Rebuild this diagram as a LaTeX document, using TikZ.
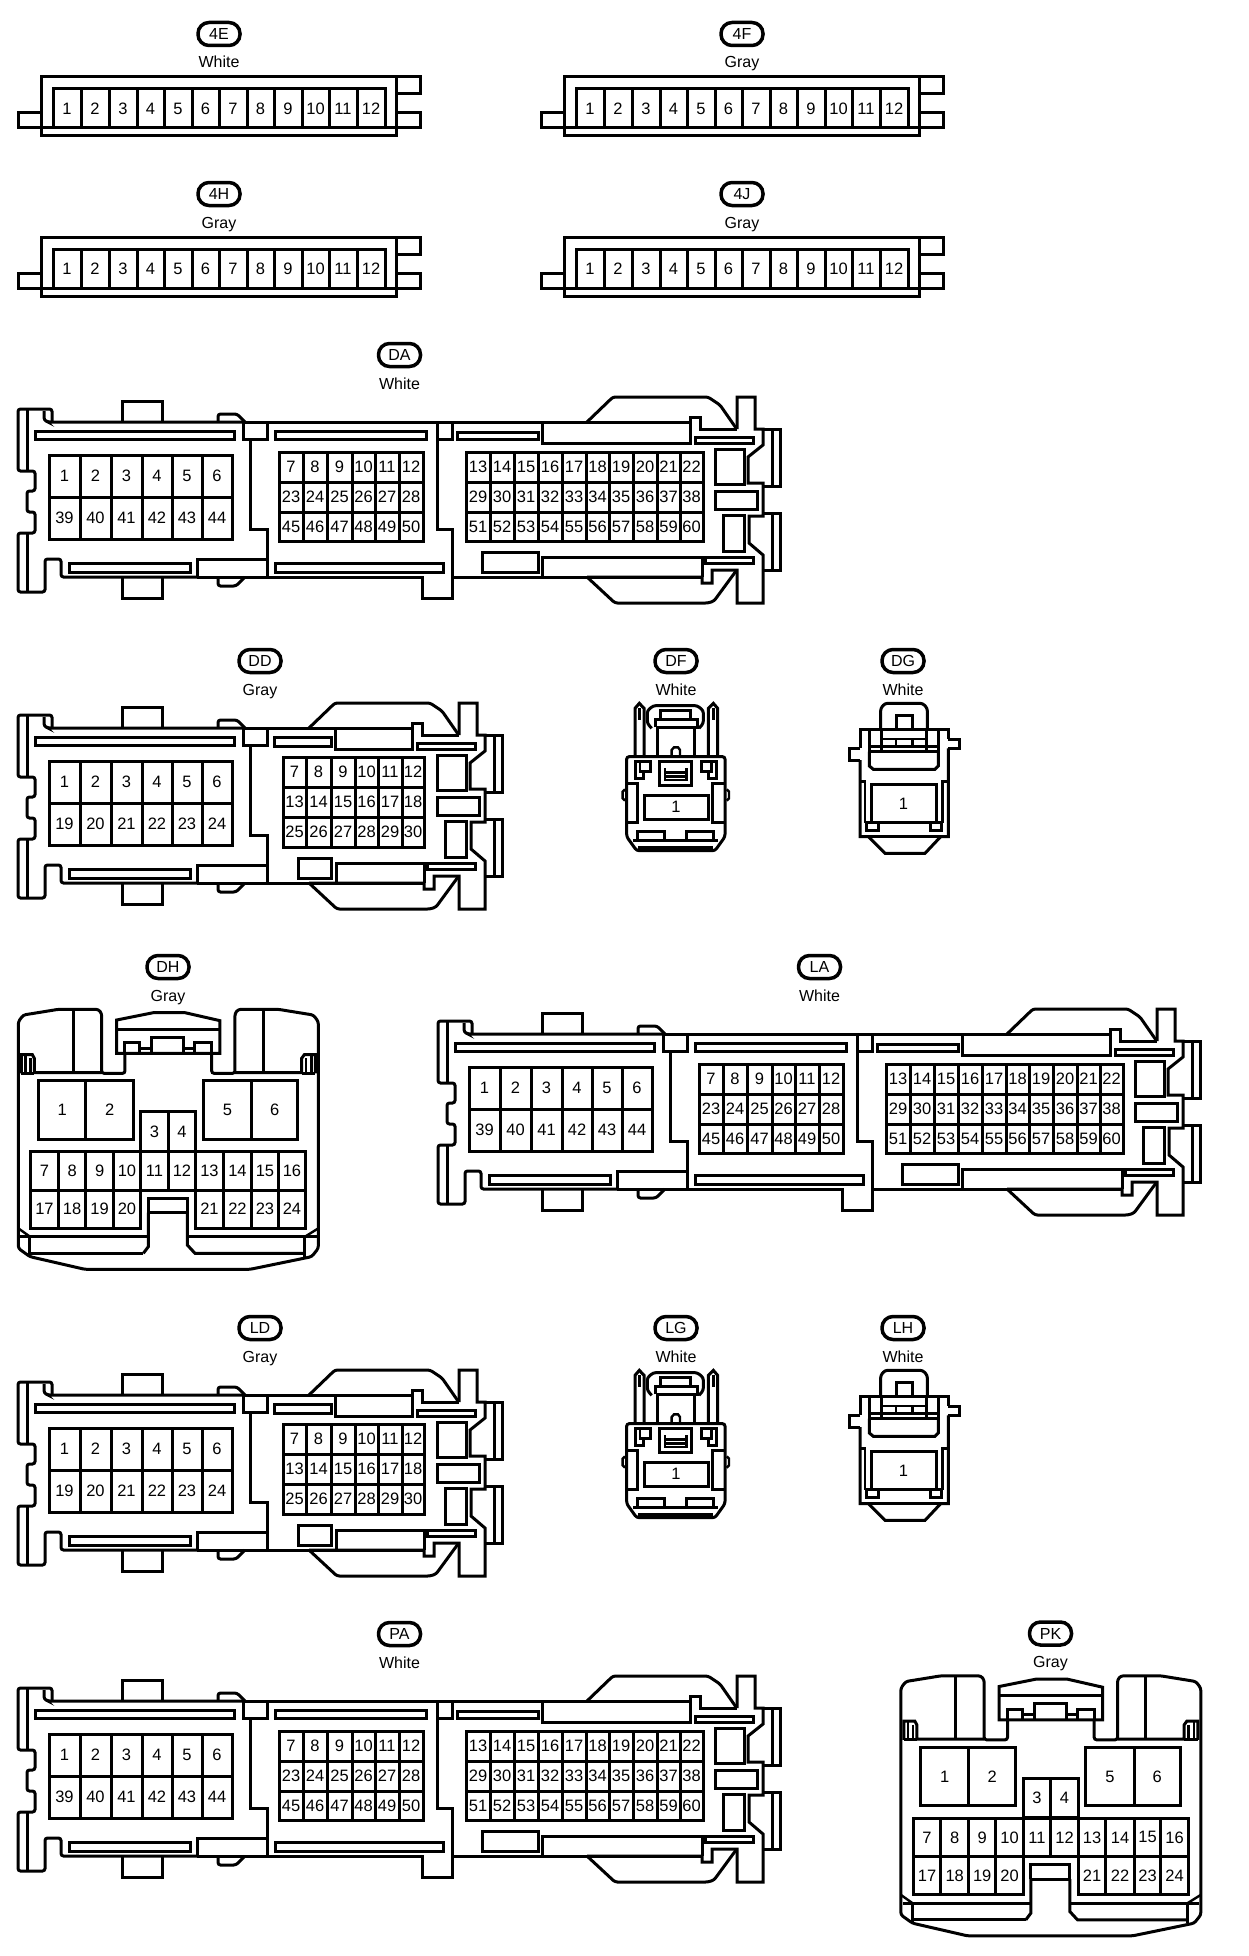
\documentclass[tikz,border=0pt]{standalone}
\usepackage{fontspec}
\setmainfont{Liberation Sans}
\tikzset{
  ln/.style={draw=black,line width=3pt,line join=miter},
  rd/.style={ln,rounded corners=2.5pt},
  thin/.style={draw=black,line width=2.4pt},
  num/.style={font=\fontsize{16.5}{18}\selectfont,inner sep=0pt,text=black},
  pill/.style={draw=black,line width=3.5pt,rounded corners=11pt,minimum width=42pt,minimum height=23pt,inner sep=0pt,font=\fontsize{16}{18}\selectfont,fill=white},
  colr/.style={font=\fontsize{16}{18}\selectfont,inner sep=0pt,text=black,anchor=base}
}
\newcommand\tagpill[5]{%
  \node[pill] (pill#1) at (#2,#3) {#4};
  \node[colr] (col#1) at (#2,#3+34) {#5};
}
\newcommand\gridrow[4]{%
  \foreach \xa/\xb/\lab in {#4}{%
    \draw[ln] (\xa,#2) rectangle (\xb,#3);
    \node[num] (#1\lab) at ({(\xa+\xb)/2},{(#2+#3)/2}) {\lab};
  }%
}
% twelve pin strip
\newcommand\strip[5]{%
 \begin{scope}[shift={(#2,#3)}]
  \tagpill{#1}{219}{34}{#4}{#5}
  \draw[ln] (41,128) rectangle (396,136);
  \draw[ln] (41,128)--(41,77)--(396,77)--(396,128);
  \draw[ln] (41,113)--(18,113)--(18,128)--(41,128);
  \draw[ln] (396,77)--(420,77)--(420,94)--(396,94);
  \draw[ln] (396,113)--(420,113)--(420,128)--(396,128);
  \gridrow{#1c}{89}{128}{53/81/1,81/109/2,109/137/3,137/164/4,164/192/5,192/219/6,219/247/7,247/274/8,274/302/9,302/329/10,329/357/11,357/385/12}
 \end{scope}%
}
% left half common to the long connectors (y base of DA)
\newcommand\leftpart{%
  \draw[rd] (52,422)--(52,409)--(18,409)--(18,471)--(35,471)--(35,491)--(27,491)--(27,512)--(35,512)--(35,533)--(18,533)--(18,592)--(45,592)--(45,559)--(61,559)--(61,577)--(197,577);
  \draw[ln] (27,409)--(27,471) (27,533)--(27,592);
  \draw[rd] (44,411)--(44,420)--(48,422)--(243,422);
  \draw[ln] (122,422)--(122,401)--(162,401)--(162,422);
  \draw[ln] (122,577)--(122,598)--(162,598)--(162,577);
  \draw[rd] (218,422)--(218,414)--(237,414)--(245,422);
  \draw[rd] (218,577)--(218,586)--(236,586)--(245,577);
  \draw[ln] (35,431) rectangle (234,439);
  \draw[ln] (69,563) rectangle (190,572);
  \draw[ln] (243,422) rectangle (267,439);
  \draw[ln] (250,439)--(250,529)--(267,529)--(267,577);
  \draw[ln] (197,577)--(197,559)--(267,559);
}
% right half common to the long connectors
\newcommand\rightpart{%
  \draw[rd] (587,422)--(613,397)--(708,397)--(720,405)--(736,428);
  \draw[ln] (587,422)--(690,422);
  \draw[ln] (690,422)--(690,417)--(700,417)--(700,429)--(737,429);
  \draw[ln] (737,429)--(737,397)--(755,397)--(755,429)--(763,429)--(763,445)--(748,457)--(748,483)--(763,483)--(763,516)--(749,516)--(749,543)--(763,555)--(763,603)--(737,603)--(737,570)--(712,570)--(712,583)--(702,583)--(702,577)--(587,577);
  \draw[rd] (736,571)--(714,601)--(708,603)--(615,603)--(587,577);
  \draw[ln] (763,429)--(780,429)--(780,486)--(763,486);
  \draw[ln] (763,513)--(780,513)--(780,570)--(763,570);
  \draw[ln] (772,429)--(772,486) (772,513)--(772,570);
  \draw[ln] (695,437) rectangle (753,443);
  \draw[ln] (705,557) rectangle (753,563);
  \draw[ln] (715,449) rectangle (744,484);
  \draw[ln] (715,491) rectangle (757,509);
  \draw[ln] (723,515) rectangle (744,551);
}
\newcommand\leftgrid[2]{%
  \gridrow{#1}{455}{497}{49/80/1,80/111/2,111/142/3,142/172/4,172/202/5,202/232/6}
  \gridrow{#1}{497}{539}{#2}
}
% 60-pin long connector
\newcommand\conn[5]{%
 \begin{scope}[shift={(#2,#3)}]
  \tagpill{#1}{399.5}{355}{#4}{#5}
  \leftpart\rightpart
  \leftgrid{#1c}{49/80/39,80/111/40,111/142/41,142/172/42,172/202/43,202/232/44}
  \draw[ln] (197,577)--(422,577)--(422,598)--(452,598)--(452,529)--(437,529)--(437,422);
  \draw[ln] (452,577)--(702,577);
  \draw[ln] (267,422)--(587,422);
  \draw[ln] (437,439)--(452,439)--(452,422);
  \draw[ln] (275,431) rectangle (426,439);
  \draw[ln] (275,563) rectangle (443,572);
  \draw[ln] (457,432) rectangle (538,439);
  \draw[ln] (482,552) rectangle (538,572);
  \draw[ln] (542,422)--(542,443)--(690,443)--(690,422);
  \draw[ln] (542,577)--(542,557)--(702,557)--(702,577);
  \gridrow{#1c}{452}{482}{279/303/7,303/327/8,327/352/9,352/375/10,375/399/11,399/423/12}
  \gridrow{#1c}{482}{512}{279/303/23,303/327/24,327/352/25,352/375/26,375/399/27,399/423/28}
  \gridrow{#1c}{512}{541}{279/303/45,303/327/46,327/352/47,352/375/48,375/399/49,399/423/50}
  \gridrow{#1c}{452}{482}{466/490/13,490/514/14,514/538/15,538/562/16,562/586/17,586/609/18,609/633/19,633/657/20,657/680/21,680/703/22}
  \gridrow{#1c}{482}{512}{466/490/29,490/514/30,514/538/31,538/562/32,562/586/33,586/609/34,609/633/35,633/657/36,657/680/37,680/703/38}
  \gridrow{#1c}{512}{541}{466/490/51,490/514/52,514/538/53,538/562/54,562/586/55,586/609/56,609/633/57,633/657/58,657/680/59,680/703/60}
 \end{scope}%
}
% 54-pin medium connector
\newcommand\connB[5]{%
 \begin{scope}[shift={(#2,#3)}]
  \tagpill{#1}{260}{661}{#4}{#5}
  \begin{scope}[shift={(0,306)}]
   \leftpart
   \leftgrid{#1c}{49/80/19,80/111/20,111/142/21,142/172/22,172/202/23,202/232/24}
  \end{scope}
  \begin{scope}[shift={(-278,306)}]\rightpart\end{scope}
  \draw[ln] (197,883)--(424,883);
  \draw[ln] (267,728)--(309,728);
  \draw[ln] (335,728)--(335,749)--(412,749)--(412,728);
  \draw[ln] (336,883)--(336,863)--(424,863)--(424,883);
  \draw[ln] (274,737) rectangle (331,746);
  \draw[ln] (298,858) rectangle (331,878);
  \gridrow{#1c}{757}{787}{283/306/7,306/331/8,331/355/9,355/378/10,378/402/11,402/424/12}
  \gridrow{#1c}{787}{817}{283/306/13,306/331/14,331/355/15,355/378/16,378/402/17,402/424/18}
  \gridrow{#1c}{817}{847}{283/306/25,306/331/26,331/355/27,355/378/28,378/402/29,402/424/30}
 \end{scope}%
}
% small connector DF kind
\newcommand\connF[4]{%
 \begin{scope}[shift={(#2,#3)}]
  \tagpill{#1}{676}{661}{#4}{White}
  \begin{scope}[shift={(600,640)},scale=1/3]
   \draw[rd] (80,590)--(80,350)--(375,350)--(375,590)--(345,632)--(110,632)--cycle;
   \draw[ln] (105,345)--(105,205)--(118,190)--(132,205)--(132,345);
   \draw[ln] (325,345)--(325,205)--(340,190)--(353,205)--(353,345);
   \draw[thin] (118,205)--(118,240) (340,205)--(340,240);
   \draw[rd] (155,265)--(142,250)--(142,212)--(160,197)--(292,197)--(310,212)--(310,250)--(297,265);
   \draw[ln] (172,345)--(172,262)--(283,262)--(283,345);
   \draw[ln] (165,262)--(165,238)--(292,238)--(292,262)--(283,262);
   \draw[ln] (182,238)--(182,212)--(272,212)--(272,238);
   \draw[thin] (215,345)--(215,330)--(222,322)--(234,322)--(240,330)--(240,345);
   \draw[ln] (105,415)--(105,365)--(150,365)--(150,395)--(130,395)--(130,415)--cycle;
   \draw[thin] (120,365)--(120,395)--(130,395);
   \draw[ln] (350,415)--(350,365)--(303,365)--(303,395)--(325,395)--(325,415)--cycle;
   \draw[thin] (335,365)--(335,395)--(325,395);
   \draw[ln] (178,365) rectangle (275,437);
   \draw[thin] (195,385)--(195,420)--(260,420)--(260,385) (195,398)--(260,398) (195,409)--(260,409);
   \draw[ln] (80,430)--(112,430)--(112,548)--(80,548);
   \draw[ln] (375,430)--(337,430)--(337,548)--(375,548);
   \draw[thin] (75,448)--(68,455)--(68,475)--(75,482) (380,448)--(387,455)--(387,475)--(380,482);
   \draw[ln] (133,465) rectangle (325,538);
   \draw[ln] (113,600)--(113,574)--(193,574)--(193,600);
   \draw[ln] (260,600)--(260,574)--(340,574)--(340,600);
   \draw[ln] (100,600)--(355,600);
   \draw[thin] (115,622)--(340,622);
   \node[num] (#1n) at (228,500) {1};
  \end{scope}
 \end{scope}%
}
% small connector DG kind
\newcommand\connG[4]{%
 \begin{scope}[shift={(#2,#3)}]
  \tagpill{#1}{903}{661}{#4}{White}
  \begin{scope}[shift={(600,640)},scale=1/3]
   \draw[rd] (842,268)--(842,205)--(855,190)--(968,190)--(982,205)--(982,268);
   \draw[ln] (888,268)--(888,226)--(938,226)--(938,268);
   \draw[ln] (780,325)--(780,268)--(1045,268)--(1045,297);
   \draw[ln] (1045,297)--(1077,297)--(1077,325)--(1045,325);
   \draw[ln] (780,325)--(748,325)--(748,360)--(780,360);
   \draw[ln] (780,360)--(780,590)--(805,590)--(855,640)--(975,640)--(1022,590)--(1045,590)--(1045,325);
   \draw[ln] (808,268)--(808,335) (1015,268)--(1015,335);
   \draw[ln] (808,318)--(1015,318) (808,335)--(1015,335);
   \draw[ln] (845,268)--(845,335) (980,268)--(980,335);
   \draw[thin] (888,297)--(888,318) (938,297)--(938,318) (845,297)--(980,297);
   \draw[ln] (808,335)--(808,378)--(820,388)--(1005,388)--(1015,378)--(1015,335);
   \draw[thin] (780,425)--(795,425)--(795,548);
   \draw[thin] (1045,425)--(1028,425)--(1028,548);
   \draw[ln] (815,432) rectangle (1008,548);
   \draw[ln] (800,548) rectangle (835,572);
   \draw[ln] (990,548) rectangle (1025,572);
   \draw[ln] (835,548)--(990,548);
   \draw[ln] (780,590)--(1045,590);
   \node[num] (#1n) at (910,490) {1};
  \end{scope}
 \end{scope}%
}
% DH kind
\newcommand\connH[5]{%
 \begin{scope}[shift={(#2,#3)}]
  \tagpill{#1}{168}{967}{#4}{#5}
  \begin{scope}[shift={(0,950)},scale=1/3]
   \draw[rd] (375,310)--(375,370)--(305,370)--(305,190)--(295,178)--(175,178)--(70,195)--(55,215)--(55,895)--(90,920)--(255,958)--(750,958)--(935,920)--(955,895)--(955,215)--(940,195)--(835,178)--(715,178)--(705,190)--(705,370)--(635,370)--(635,310);
   \draw[ln] (350,310)--(350,210)--(460,188)--(555,188)--(660,212)--(660,310)--cycle;
   \draw[ln] (350,237)--(660,237);
   \draw[ln] (375,310)--(375,278)--(420,278)--(420,310);
   \draw[ln] (585,310)--(585,278)--(635,278)--(635,310);
   \draw[ln] (455,310)--(455,262)--(552,262)--(552,310);
   \draw[ln] (420,295)--(455,295) (552,295)--(585,295);
   \draw[ln] (220,178)--(220,370) (790,178)--(790,370);
   \draw[ln] (64,370)--(64,314)--(97,314)--(103,325)--(103,368)--(305,368);
   \draw[thin] (76,316)--(76,368) (92,325)--(92,368);
   \draw[ln] (64,370)--(103,370);
   \draw[ln] (946,370)--(946,314)--(913,314)--(905,325)--(905,368)--(705,368);
   \draw[thin] (934,316)--(934,368) (918,325)--(918,368);
   \draw[ln] (905,370)--(946,370);
   \gridrow{#1c}{392}{568}{115/258/1,258/400/2,610/755/5,755/893/6}
   \gridrow{#1c}{485}{603}{422/505/3,505/587/4}
   \gridrow{#1c}{605}{720}{92/175/7,175/258/8,258/340/9,340/422/10,422/505/11,505/587/12,587/670/13,670/755/14,755/835/15,835/917/16}
   \gridrow{#1c}{720}{835}{92/175/17,175/258/18,258/340/19,340/422/20,587/670/21,670/755/22,755/835/23,835/917/24}
   \draw[ln] (430,910)--(90,910);
   \draw[ln] (445,788)--(445,745)--(562,745)--(562,788);
   \draw[ln] (445,788)--(445,890)--(430,910);
   \draw[ln] (562,788)--(562,885)--(585,910)--(915,910);
   \draw[ln] (445,788)--(562,788);
   \draw[ln] (60,860)--(445,860) (562,860)--(950,860);
   \draw[ln] (90,860)--(90,920) (915,860)--(915,920);
   \draw[thin] (55,835)--(90,860) (955,835)--(915,860);
  \end{scope}
 \end{scope}%
}
\begin{document}
\begin{tikzpicture}[x=1pt,y=-1pt]
\fill[white] (0,0) rectangle (1248,1956);
\useasboundingbox (0,0) rectangle (1248,1956);
\strip{E}{0}{0}{4E}{White}
\strip{F}{523}{0}{4F}{Gray}
\strip{H}{0}{160}{4H}{Gray}
\strip{J}{523}{160}{4J}{Gray}
\conn{DA}{0}{0}{DA}{White}
\connB{DD}{0}{0}{DD}{Gray}
\connF{DF}{0}{0}{DF}
\connG{DG}{0}{0}{DG}
\connH{DH}{0}{0}{DH}{Gray}
\conn{LA}{420}{612}{LA}{White}
\connB{LD}{0}{667}{LD}{Gray}
\connF{LG}{0}{667}{LG}
\connG{LH}{0}{667}{LH}
\conn{PA}{0}{1279}{PA}{White}
\connH{PK}{882.5}{666.5}{PK}{Gray}
\end{tikzpicture}
\end{document}
